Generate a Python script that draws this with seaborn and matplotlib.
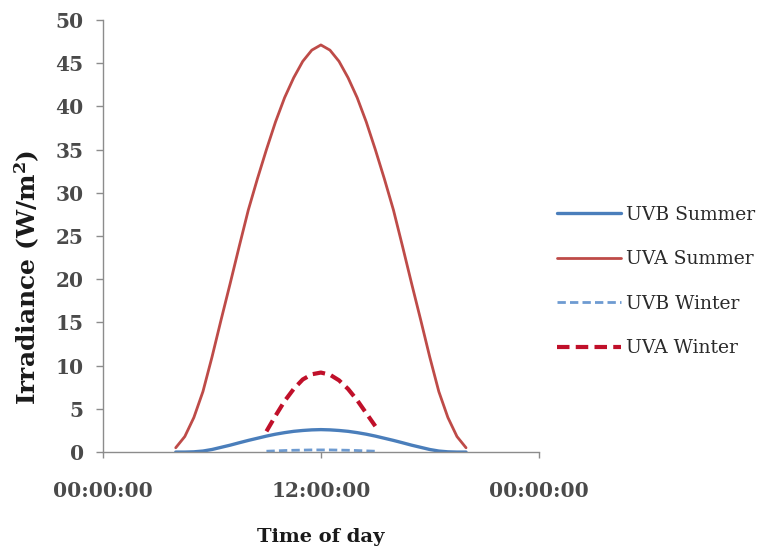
import numpy as np
import pandas as pd
import matplotlib
matplotlib.use("Agg")
import matplotlib.pyplot as plt
import seaborn as sns

# ---- data (hours of day, irradiance W/m2) ----
hours_summer = [4, 4.5, 5, 5.5, 6, 6.5, 7, 7.5, 8, 8.5, 9, 9.5, 10, 10.5, 11, 11.5, 12,
                12.5, 13, 13.5, 14, 14.5, 15, 15.5, 16, 16.5, 17, 17.5, 18, 18.5, 19, 19.5, 20]
uva_summer = [0.5, 1.8, 4.0, 7.0, 11.0, 15.3, 19.5, 23.8, 28.0, 31.6, 35.0, 38.2, 41.0, 43.3, 45.2, 46.5, 47.1,
              46.5, 45.2, 43.3, 41.0, 38.2, 35.0, 31.6, 28.0, 23.8, 19.5, 15.3, 11.0, 7.0, 4.0, 1.8, 0.5]
uvb_summer = [0.0, 0.0, 0.03, 0.12, 0.3, 0.55, 0.8, 1.08, 1.35, 1.6, 1.85, 2.07, 2.25, 2.4, 2.5, 2.57, 2.6,
              2.57, 2.5, 2.4, 2.25, 2.07, 1.85, 1.6, 1.35, 1.08, 0.8, 0.55, 0.3, 0.12, 0.03, 0.0, 0.0]

hours_winter = [9, 9.5, 10, 10.5, 11, 11.5, 12, 12.5, 13, 13.5, 14, 14.5, 15]
uva_winter = [2.4, 4.2, 5.9, 7.3, 8.4, 9.0, 9.2, 8.95, 8.3, 7.3, 6.0, 4.5, 3.0]
uvb_winter = [0.1, 0.14, 0.18, 0.21, 0.23, 0.25, 0.25, 0.25, 0.23, 0.21, 0.18, 0.14, 0.1]

x_ticks = [0, 12, 24]
x_tick_labels = ["00:00:00", "12:00:00", "00:00:00"]
y_ticks = list(range(0, 51, 5))

series_order = ["UVB Summer", "UVA Summer", "UVB Winter", "UVA Winter"]

df = pd.concat([
    pd.DataFrame({"hour": hours_summer, "value": uvb_summer, "series": "UVB Summer"}),
    pd.DataFrame({"hour": hours_summer, "value": uva_summer, "series": "UVA Summer"}),
    pd.DataFrame({"hour": hours_winter, "value": uvb_winter, "series": "UVB Winter"}),
    pd.DataFrame({"hour": hours_winter, "value": uva_winter, "series": "UVA Winter"}),
], ignore_index=True)

sns.set_theme(style="white")
plt.rcParams['font.family'] = ['DejaVu Serif', 'Liberation Serif']
plt.rcParams['mathtext.fontset'] = 'dejavuserif'

palette = {"UVB Summer": "#4A7EBB", "UVA Summer": "#BE4B48",
           "UVB Winter": "#6E9BD1", "UVA Winter": "#C0102A"}
widths = {"UVB Summer": 2.4, "UVA Summer": 2.0, "UVB Winter": 2.0, "UVA Winter": 3.0}
styles = {"UVB Summer": "-", "UVA Summer": "-",
          "UVB Winter": (0, (3, 1.5)), "UVA Winter": (0, (3, 1.5))}

fig = plt.figure(figsize=(7.64, 5.52), dpi=100)
ax = fig.add_axes([0.135, 0.181, 0.57, 0.783])

for name in series_order:
    sub = df[df["series"] == name]
    sns.lineplot(data=sub, x="hour", y="value", ax=ax, color=palette[name],
                 linewidth=widths[name], linestyle=styles[name], label=name,
                 sort=True, estimator=None)

ax.set_xlim(0, 24)
ax.set_ylim(0, 50)
ax.set_xticks(x_ticks)
ax.set_xticklabels(x_tick_labels)
ax.set_yticks(y_ticks)

for s in ["top", "right"]:
    ax.spines[s].set_visible(False)
for s in ["left", "bottom"]:
    ax.spines[s].set_color("#8C8C8C")
    ax.spines[s].set_linewidth(1.0)

ax.tick_params(axis="y", direction="out", length=5, width=1, color="#8C8C8C",
               pad=9, labelsize=14.5, labelcolor="#4A4A4A", left=True)
ax.tick_params(axis="x", direction="out", length=4, width=1, color="#8C8C8C",
               pad=17, labelsize=14.5, labelcolor="#4A4A4A", bottom=True)
for lbl in ax.get_yticklabels() + ax.get_xticklabels():
    lbl.set_fontweight("bold")

ax.set_xlabel("Time of day", fontsize=14, fontweight="bold", color="#1A1A1A")
ax.xaxis.set_label_coords(0.5, -0.176)
ax.set_ylabel("Irradiance (W/m$^\\mathbf{2}$)", fontsize=18, fontweight="bold",
              color="#1A1A1A")
ax.yaxis.set_label_coords(-0.14, 0.405)

ax.get_legend().remove()
handles, labels = ax.get_legend_handles_labels()
fig.legend(handles, labels, loc="center left", bbox_to_anchor=(0.717, 0.49),
           frameon=False, fontsize=13.5, labelspacing=1.42, handlelength=3.4,
           handletextpad=0.25, borderpad=0, labelcolor="#2A2A2A")

fig.savefig("out.png", dpi=100)
